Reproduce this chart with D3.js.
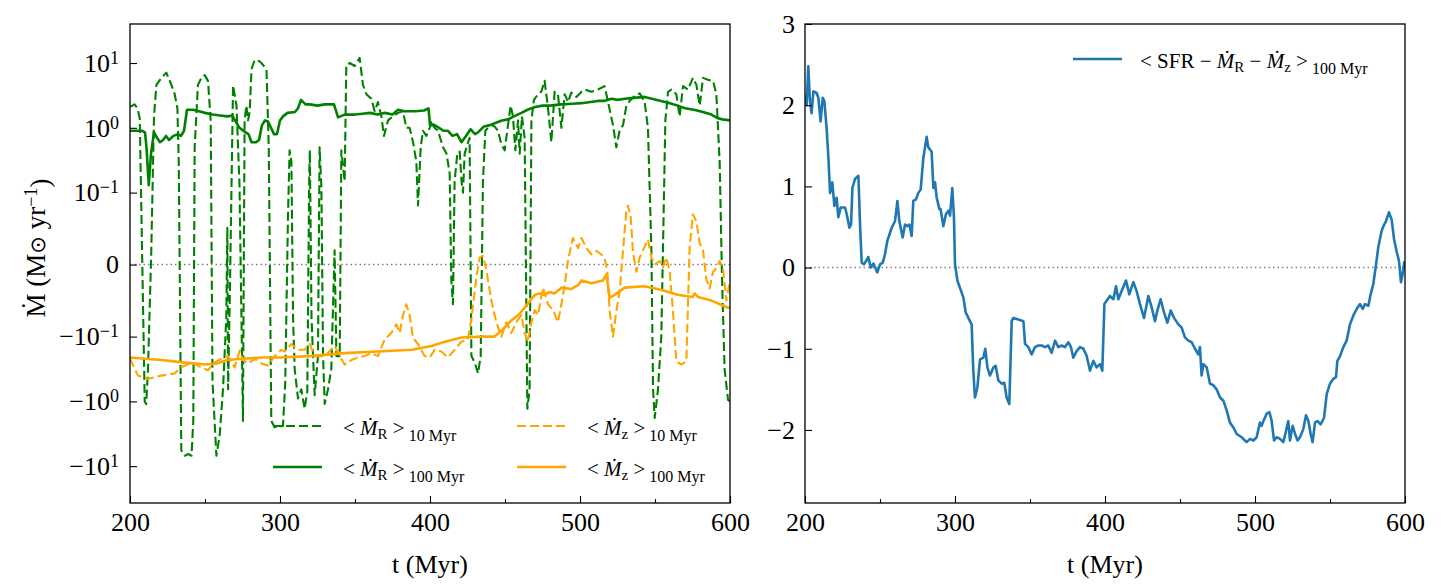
<!DOCTYPE html>
<html>
<head>
<meta charset="utf-8">
<script src="https://cdn.jsdelivr.net/npm/d3@7"></script>
<style>
body { margin: 0; background: #fff; }
svg text { font-family: "Liberation Serif", "Times New Roman", serif; fill: #000; }
</style>
</head>
<body>
<svg id="fig" width="1441" height="587"></svg>
<script>
// ---- data ----
// <Mdot_R>_10Myr (green dashed)
var tMR10 = [200,203,205,206.5,209.8,210.8,212,214.2,216,217.6,221,224.2,227.6,229.8,231.6,232.5,234.2,236.5,239,241,242.2,243.1,245.3,247.6,249.8,252,253.8,255,257.6,259.8,262,264.2,264.9,265.4,266.5,268.7,271,273,275.3,276.4,277.6,278.7,279.8,281,283,285.3,287.6,291,292.5,294.2,296.4,302,303.5,305.3,306.4,307.6,308.7,309.8,312,314.2,316.4,318.2,319.5,319.9,321,323.1,325.3,326.4,327.6,328.7,329.8,332,334.2,336.4,337.6,339.8,340.9,343.1,344.2,346.4,349.8,353.1,355.3,357.6,360.9,363.1,365.3,367.6,369.3,372,375.3,378.7,382,384.2,386.4,388.7,390.9,392,393.8,395.3,397.6,399.8,401,403,405.3,408.7,411,413.1,414.2,415.3,416.4,418.2,419.8,421,422,423.1,424.9,426.4,427.6,429.8,432,433.8,435.3,436.9,438.7,440.9,443.1,445.3,447.6,449.8,452,453.8,455.3,456.9,458.7,459.8,461.3,463.1,464.9,466.4,467.6,469.3,472,474.2,476.4,478.7,480.9,483.1,485.3,487.6,489.8,492,494.2,497.6,501,503.1,507.6,512,516.4,518.7,522,524.2,526.4,528.7,530.9,533.1,536.4,539.8,543.1,545.3,547.6,548.7,549.8,552,554.2,555.3,556.9,558.7,560.9,564.2,566.4,568.7,572,575.3,577.6,579.8,582,585.3,588.7,590.9,593.1,594.7,596.4,598.7,600];
var vMR10 = [2.1,2.3,2.0,1.4,-1.0,-1.1,-0.32,0.02,1.5,4.6,5.9,7.1,4.6,3.3,2.0,0.3,-5.7,-6.9,-6.5,-6.9,-2,0.5,4.6,5.9,6.5,5.3,1.3,-0.5,-6.9,-3.3,-0.65,-0.074,0.051,-0.65,-0.05,4.5,2.2,0.13,-2.0,1.3,2.2,1.3,1.8,8,11,11,10,8,0.5,-2.0,-2.5,-2.4,-0.5,0.065,0.45,0.3,-0.074,-0.32,-0.9,-0.65,-1.3,-0.7,0.2,0.45,-0.074,-0.8,-0.2,0.5,0.12,-0.2,-1.1,-0.65,-0.32,0.02,-0.2,-0.2,0.45,0.15,9.3,10,9,12,4.6,3.3,2.8,1.8,2.5,1.5,0.75,1.3,1.5,1.7,1.8,1.0,1.0,0.6,0.3,0.082,0.5,0.9,0.75,1.0,1.3,1.0,0.9,0.5,0.4,0.2,-0.02,-0.055,0.15,0.4,0.43,0.15,0.1,0.4,0.55,0.7,-0.2,-0.25,-0.37,-0.2,0.15,0.9,1.0,1.1,1.05,0.9,0.55,0.45,1.1,2.2,1.5,0.45,1.3,0.4,1.5,0.7,-1.3,-0.65,1.3,2.7,3.3,3.6,5.3,2.0,0.6,3.6,3.3,1.0,3.3,2.5,3.5,3.0,3.6,3.9,3.6,3.9,4.4,2.5,1.1,0.5,0.9,1.1,2.2,2.6,3.1,3.4,2.5,1.0,0.02,-0.65,-1.8,-0.65,-0.1,0.02,1.3,3.6,3.9,3.3,1.5,4.4,3.9,5.9,4.6,2.2,5.9,5.5,5.3,3.3,0.3,-0.02,-0.32,-0.95,-1.0];

// <Mdot_R>_100Myr (green solid)
var tMR100 = [200,205,208,210,211,212.5,214,216,218,220,222,224,226,229,232,234,236,238,242,246,250,255,260,265,268,270,273,277,279,281,284,286,288,290,292,294,296,298,300,302,305,310,312,314,317,320,325,330,336,338.7,343,350,355,360,365,370,375,378.7,383,390,396,399,400,403,406,409,412,415,418,421,424,427,430,432,436,440,444,448,452,456,461,465,470,475,480,487.5,495,501,507,512,516,521,525,530,536,543,548,554,560,565,570,576,582,587.6,592,595,600];
var vMR100 = [0.9,0.9,0.9,0.85,0.5,0.13,0.4,0.85,0.7,0.6,0.65,0.75,0.65,0.75,0.8,0.75,0.9,1.9,1.9,1.8,1.7,1.6,1.55,1.5,1.55,1.3,1.0,0.85,0.8,0.6,0.6,0.65,1.1,1.3,1.25,1.0,0.8,0.8,1.3,1.5,1.7,1.75,2.0,2.7,2.3,2.3,2.2,2.3,2.3,1.45,1.6,1.6,1.65,1.7,1.6,1.7,1.6,1.9,1.8,1.8,1.85,2.0,1.1,1.1,1.0,0.9,0.9,0.75,0.8,0.6,0.75,0.95,0.8,0.85,1.05,1.1,1.2,1.3,1.35,1.5,1.7,1.9,2.1,2.2,2.2,2.3,2.35,2.4,2.5,2.6,2.6,2.8,2.7,2.8,2.9,3.0,2.8,2.6,2.4,2.2,2.0,1.9,1.75,1.6,1.4,1.35,1.3];

// <Mdot_z>_10Myr (orange dashed)
var tMZ10 = [200,205.3,212,221,229.8,234,241,247.6,252,256.4,260.9,265.3,269.8,273.1,275.3,278.7,283.1,287.6,292,296.4,300.9,303.1,307.6,312,316.4,319.8,323.1,329.8,336.4,339.8,343.1,347.6,352,356.4,360.9,365.3,369.8,374.2,377.6,379.8,382,384.2,386.4,388.7,392,396.4,399.8,403.1,407.6,412,416.4,420.9,425.3,427.6,430.9,433.1,435.3,437.6,440.9,444.2,447.6,450.9,454.2,457.6,460.9,463.1,465.3,467.6,469.8,472,475.3,478.7,482,485.3,487.6,489.8,492,495.3,498.7,501,504.2,507.6,510.9,514.2,516.4,518.2,519.8,522,524.2,526.4,528.7,530.9,532,533.8,535.3,537.6,539.8,543.1,545.3,547.6,549.8,553.1,555.3,557.6,559.8,562,564.2,567.6,570.9,573.1,575.3,577.6,579.8,582,584.2,586.4,588.7,590.9,593.1,595.3,597.6,600];
var vMZ10 = [-0.22,-0.4,-0.45,-0.4,-0.37,-0.3,-0.25,-0.3,-0.33,-0.25,-0.22,-0.2,-0.3,-0.165,-0.23,-0.26,-0.22,-0.26,-0.28,-0.2,-0.16,-0.17,-0.13,-0.16,-0.16,-0.13,-0.2,-0.2,-0.14,-0.2,-0.27,-0.23,-0.21,-0.2,-0.18,-0.2,-0.11,-0.095,-0.083,-0.095,-0.07,-0.055,-0.07,-0.105,-0.13,-0.2,-0.21,-0.16,-0.17,-0.21,-0.16,-0.12,-0.11,-0.075,-0.018,0.01,0.012,-0.008,-0.05,-0.08,-0.1,-0.08,-0.095,-0.08,-0.07,-0.095,-0.12,-0.08,-0.063,-0.07,-0.032,-0.055,-0.063,-0.08,-0.055,-0.028,0.006,0.037,0.023,0.037,0.023,0.014,0.019,0.014,0.009,-0.009,-0.065,-0.1,-0.065,-0.037,0.02,0.075,0.082,0.066,0.018,-0.01,0.01,0.025,0.035,0.01,0.0,0.005,-0.004,0.01,-0.01,-0.065,-0.24,-0.27,-0.24,0.025,0.07,0.06,0.03,0.02,-0.02,-0.033,-0.01,-0.005,0.005,-0.005,-0.05,-0.022];

// <Mdot_z>_100Myr (orange solid)
var tMZ100 = [200,210,221,235,250,258,265,275,288,300,320,343,365,388,401,410,421,435,443,447.6,454,459,463,469.8,473,476,480,483,487.6,494,499,501,507.6,515.3,517.6,519.8,523.1,529.8,543,554,565,575,576.4,578.7,587.6,598.7,600];
var vMZ100 = [-0.21,-0.22,-0.23,-0.25,-0.27,-0.26,-0.23,-0.22,-0.21,-0.21,-0.2,-0.18,-0.17,-0.16,-0.14,-0.12,-0.103,-0.1,-0.1,-0.092,-0.078,-0.07,-0.06,-0.042,-0.04,-0.042,-0.038,-0.04,-0.032,-0.034,-0.028,-0.022,-0.026,-0.022,-0.014,-0.046,-0.042,-0.032,-0.03,-0.035,-0.042,-0.045,-0.04,-0.045,-0.05,-0.06,-0.06];

// <SFR - Mdot_R - Mdot_z>_100Myr (blue, right panel)
var tNet = [200.4,201.1,202.2,203.3,204.4,205.6,207.8,208.9,210.4,211.8,212.9,214.4,215.6,216.7,218.2,219.6,221.1,222.2,223.8,226.7,227.8,229.6,230.7,231.6,233.3,235.6,236.7,237.8,239.3,240.7,242.2,243.8,245.6,248.2,250,251.8,253.3,254.9,257.8,260,261.6,262.9,265.1,266.7,268.2,269.6,271.1,272.2,274,275.6,277.1,278.9,281.1,282.2,284.4,285.6,286.7,287.8,289.6,290.4,292.2,294,295.6,296.7,298.2,299.3,300,301.6,303.3,305.6,307.1,308.9,311.1,312.2,313.3,314.9,316.7,318.9,320.2,321.6,323.3,325.6,327.1,328.9,331.1,332.9,334.4,336.2,337.8,338.9,342.2,345.6,346.7,348.9,351.1,353.3,355.6,357.8,360,362.2,364.4,366.7,368.9,371.1,373.3,375.6,377.3,378.9,381.1,383.3,385.6,387.8,390,392.2,394.4,396.7,398.2,399.6,401.1,403.3,405.6,407.3,408.9,411.1,414,416.2,418.9,421.1,423.3,426,428.9,431.1,433.3,434.9,437.1,439.3,441.6,443.8,446,448.9,451.1,453.3,455.6,457.8,460,462.2,463.3,464.4,465.6,467.8,470,472.2,474.4,476.7,478.9,481.1,483.3,485.6,487.8,491.1,494.4,496.7,498.9,501.1,503.3,504.4,505.6,507.8,509.6,511.1,512.7,514.4,516.7,518.9,520.7,522.2,523.3,525.1,526.7,528.4,530,532.2,534,535.6,537.1,538.4,540,541.6,543.8,546,547.8,550,552.2,554,554.9,556.7,558.9,561.1,563.3,565.6,567.8,570,571.8,573.3,575.6,577.1,578.9,580.7,582.2,584.4,585.6,587.3,589.3,591.1,592.7,594.4,596,597.3,598.4,599.6];
var vNet = [2.13,2.0,2.48,2.05,1.9,2.17,2.15,2.09,1.8,2.09,2.05,1.72,1.35,0.92,1.05,0.76,0.86,0.62,0.74,0.74,0.66,0.49,0.53,0.98,1.09,1.13,0.53,0.06,0.04,0.08,0.13,0.0,0.05,-0.06,0.04,0.06,0.16,0.33,0.49,0.57,0.82,0.57,0.37,0.53,0.51,0.53,0.39,0.82,0.84,0.92,0.96,1.35,1.61,1.48,1.43,0.98,1.05,0.86,0.72,0.72,0.51,0.66,0.7,0.64,0.98,0.62,0.04,-0.16,-0.25,-0.37,-0.55,-0.62,-0.7,-1.27,-1.6,-1.48,-1.13,-1.11,-1.0,-1.23,-1.33,-1.23,-1.21,-1.39,-1.43,-1.42,-1.6,-1.68,-0.66,-0.62,-0.64,-0.66,-0.94,-0.98,-1.07,-0.98,-0.96,-0.96,-0.98,-0.96,-1.05,-0.9,-0.98,-0.96,-0.98,-0.92,-0.98,-1.11,-1.03,-0.98,-1.0,-1.09,-1.27,-1.15,-1.23,-1.19,-1.27,-0.45,-0.41,-0.35,-0.39,-0.23,-0.39,-0.29,-0.16,-0.33,-0.18,-0.29,-0.45,-0.62,-0.35,-0.49,-0.66,-0.53,-0.39,-0.55,-0.68,-0.53,-0.62,-0.7,-0.74,-0.86,-0.9,-0.92,-1.0,-1.07,-0.98,-1.33,-1.19,-1.23,-1.43,-1.45,-1.5,-1.6,-1.64,-1.76,-1.91,-1.97,-2.05,-2.09,-2.15,-2.11,-2.13,-2.09,-1.91,-1.95,-1.89,-1.8,-1.78,-1.89,-2.13,-2.09,-2.11,-2.15,-2.01,-1.89,-2.13,-1.95,-2.05,-2.13,-2.09,-1.99,-1.82,-1.89,-2.05,-2.15,-1.91,-1.89,-1.93,-1.85,-1.56,-1.43,-1.37,-1.35,-1.15,-1.09,-0.98,-0.9,-0.7,-0.59,-0.51,-0.45,-0.51,-0.45,-0.47,-0.33,-0.2,0.04,0.25,0.45,0.51,0.57,0.68,0.59,0.35,0.2,0.08,-0.18,-0.08,0.08];

var xTicks = [200, 300, 400, 500, 600];
var xMinor = [250, 350, 450, 550];
var yTicksLeft = [-10, -1, -0.1, 0, 0.1, 1, 10];
var yTickBase = ["\u221210", "\u221210", "\u221210", "0", "10", "10", "10"];
var yTickExp = ["1", "0", "\u22121", "", "\u22121", "0", "1"];
var yTicksRight = [-2, -1, 0, 1, 2, 3];

// ---- symlog transform (linthresh 0.1, linscale 1), like matplotlib ----
var linthresh = 0.1, linscaleAdj = 1 / (1 - 1 / 10);
function symlog(v) {
		var a = Math.abs(v), s = v < 0 ? -1 : 1;
		if (a <= linthresh) return s * (a / linthresh) * linscaleAdj;
		return s * (linscaleAdj + Math.log10(a / linthresh));
}

var svg = d3.select("#fig");
var plotTop = 24, plotBottom = 503;

var xL = d3.scaleLinear().domain([200, 600]).range([130, 730]);
var xR = d3.scaleLinear().domain([200, 600]).range([805, 1405]);
var yL = d3.scaleLinear().domain([symlog(-37), symlog(40)]).range([plotBottom, plotTop]);
var yR = d3.scaleLinear().domain([-2.9, 3]).range([plotBottom, plotTop]);

function zip(ts, vs) {
		return ts.map(function(t, i) { return [t, vs[i]]; });
}

var defs = svg.append("defs");
defs.append("clipPath").attr("id", "clipL").append("rect")
		.attr("x", 130).attr("y", plotTop).attr("width", 600).attr("height", plotBottom - plotTop);
defs.append("clipPath").attr("id", "clipR").append("rect")
		.attr("x", 805).attr("y", plotTop).attr("width", 600).attr("height", plotBottom - plotTop);

// ---- left panel ----
var lineL = d3.line()
		.x(function(d) { return xL(d[0]); })
		.y(function(d) { return yL(symlog(d[1])); });

var gL = svg.append("g").attr("clip-path", "url(#clipL)");

gL.append("line")
		.attr("x1", 130).attr("x2", 730)
		.attr("y1", yL(0)).attr("y2", yL(0))
		.attr("stroke", "#808080").attr("stroke-width", 1.5)
		.attr("stroke-dasharray", "1.5,3");

var seriesL = [
		{ data: zip(tMR10, vMR10), color: "green", dash: "9,4", w: 2.1 },
		{ data: zip(tMR100, vMR100), color: "green", dash: null, w: 2.6 },
		{ data: zip(tMZ10, vMZ10), color: "orange", dash: "9,4", w: 2.1 },
		{ data: zip(tMZ100, vMZ100), color: "orange", dash: null, w: 2.6 }
];

seriesL.forEach(function(s) {
		gL.append("path")
				.datum(s.data)
				.attr("d", lineL)
				.attr("fill", "none")
				.attr("stroke", s.color)
				.attr("stroke-width", s.w)
				.attr("stroke-linejoin", "round")
				.attr("stroke-dasharray", s.dash);
});

// ---- right panel ----
var lineR = d3.line()
		.x(function(d) { return xR(d[0]); })
		.y(function(d) { return yR(d[1]); });

var gR = svg.append("g").attr("clip-path", "url(#clipR)");

gR.append("line")
		.attr("x1", 805).attr("x2", 1405)
		.attr("y1", yR(0)).attr("y2", yR(0))
		.attr("stroke", "#808080").attr("stroke-width", 1.5)
		.attr("stroke-dasharray", "1.5,3");

gR.append("path")
		.datum(zip(tNet, vNet))
		.attr("d", lineR)
		.attr("fill", "none")
		.attr("stroke", "#1f77b4")
		.attr("stroke-width", 2.6)
		.attr("stroke-linejoin", "round");

// ---- axes ----
function styleAxis(g) {
		g.select(".domain").remove();
		g.selectAll(".tick line").attr("stroke", "#000").attr("stroke-width", 1.1);
		g.selectAll(".tick text").attr("font-size", "26px")
				.attr("font-family", "Liberation Serif, Times New Roman, serif");
}

[xL, xR].forEach(function(x) {
		svg.append("g")
				.attr("transform", "translate(0," + plotBottom + ")")
				.call(d3.axisBottom(x).tickValues(xTicks).tickSize(-7).tickSizeOuter(0).tickPadding(10).tickFormat(d3.format("d")))
				.call(styleAxis);
		svg.append("g")
				.attr("transform", "translate(0," + plotBottom + ")")
				.call(d3.axisBottom(x).tickValues(xMinor).tickSize(-4).tickSizeOuter(0).tickFormat(""))
				.call(styleAxis);
});

var axL = svg.append("g")
		.attr("transform", "translate(130,0)")
		.call(d3.axisLeft(yL).tickValues(yTicksLeft.map(symlog)).tickSize(-7).tickSizeOuter(0).tickPadding(11).tickFormat(""))
		.call(styleAxis);

axL.selectAll(".tick text").each(function(d, i) {
		var t = d3.select(this);
		t.append("tspan").text(yTickBase[i]);
		if (yTickExp[i]) {
				t.append("tspan").attr("dy", "-0.45em").attr("font-size", "18px").text(yTickExp[i]);
		}
});

svg.append("g")
		.attr("transform", "translate(805,0)")
		.call(d3.axisLeft(yR).tickValues(yTicksRight).tickSize(-7).tickSizeOuter(0).tickPadding(10).tickFormat(d3.format("d")))
		.call(styleAxis);

// frames
[[130, 600], [805, 600]].forEach(function(f) {
		svg.append("rect")
				.attr("x", f[0]).attr("y", plotTop)
				.attr("width", f[1]).attr("height", plotBottom - plotTop)
				.attr("fill", "none").attr("stroke", "#000").attr("stroke-width", 1.3);
});

// axis labels
[430, 1105].forEach(function(cx) {
		svg.append("text")
				.attr("x", cx).attr("y", 573)
				.attr("text-anchor", "middle")
				.attr("font-size", "26px")
				.text("t (Myr)");
});

var ylab = svg.append("text")
		.attr("transform", "translate(45,248) rotate(-90)")
		.attr("text-anchor", "middle")
		.attr("font-size", "27px");
ylab.append("tspan").text("\u1E40  (M");
ylab.append("tspan").attr("font-family", "DejaVu Sans").attr("font-size", "21px").text("\u2299");
ylab.append("tspan").text(" yr");
ylab.append("tspan").attr("dy", "-0.45em").attr("font-size", "18px").text("\u22121");
ylab.append("tspan").attr("dy", "0.45em").text(")");

// ---- legends ----
function legendLabel(x, y, parts) {
		var t = svg.append("text").attr("x", x).attr("y", y).attr("font-size", "21px");
		parts.forEach(function(p) {
				var s = t.append("tspan").text(p.s);
				if (p.it) s.attr("font-style", "italic");
				if (p.size) s.attr("font-size", p.size);
				if (p.dy) s.attr("dy", p.dy);
		});
		return t;
}

function mdot(sub) {
		return [{ s: "\u1E40", it: true }, { s: sub, size: "15px", dy: 4 }];
}

var legLeft = [
		{ x: 273, y: 426, color: "green", dash: "9,4", w: 2.1, sub: "R", avg: "10 Myr" },
		{ x: 273, y: 467, color: "green", dash: null, w: 2.6, sub: "R", avg: "100 Myr" },
		{ x: 517, y: 426, color: "orange", dash: "9,4", w: 2.1, sub: "z", avg: "10 Myr" },
		{ x: 517, y: 467, color: "orange", dash: null, w: 2.6, sub: "z", avg: "100 Myr" }
];

legLeft.forEach(function(l) {
		svg.append("line")
				.attr("x1", l.x).attr("x2", l.x + 49)
				.attr("y1", l.y).attr("y2", l.y)
				.attr("stroke", l.color).attr("stroke-width", l.w)
				.attr("stroke-dasharray", l.dash);
		var parts = [{ s: "< " }].concat(mdot(l.sub))
				.concat([{ s: " >", dy: -4 }, { s: " " + l.avg, size: "16px", dy: 6 }]);
		legendLabel(l.x + 70, l.y + 9, parts);
});

svg.append("line")
		.attr("x1", 1073).attr("x2", 1122)
		.attr("y1", 59).attr("y2", 59)
		.attr("stroke", "#1f77b4").attr("stroke-width", 2.6);
legendLabel(1140, 68, [{ s: "< SFR \u2212 " }].concat(mdot("R"))
		.concat([{ s: " \u2212 ", dy: -4 }]).concat(mdot("z"))
		.concat([{ s: " >", dy: -4 }, { s: " 100 Myr", size: "16px", dy: 6 }]));
</script>
</body>
</html>
